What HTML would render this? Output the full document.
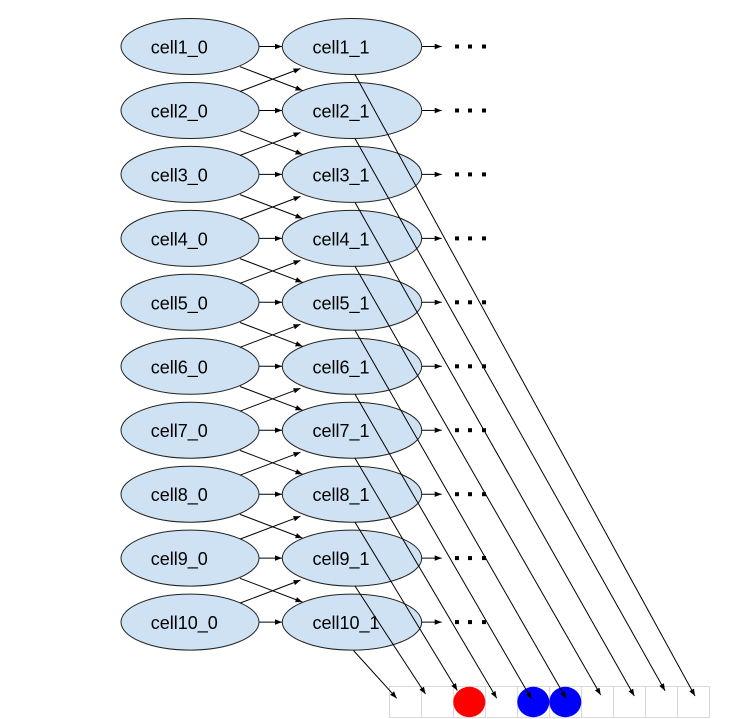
<!DOCTYPE html>
<html>
<head>
<meta charset="utf-8">
<style>
html,body{margin:0;padding:0;background:#fff;}
svg{display:block;}
text{font-family:"Liberation Sans",Arial,sans-serif;font-size:18px;fill:#000;}
</style>
</head>
<body>
<svg width="748" height="719" viewBox="0 0 748 719" xmlns="http://www.w3.org/2000/svg">
<defs>
<marker id="a" markerWidth="8" markerHeight="7" refX="7" refY="3" orient="auto" markerUnits="userSpaceOnUse">
<path d="M0,0.3 L7,3 L0,5.7 z" fill="#000"/>
</marker>
</defs>
<rect width="748" height="719" fill="#fff"/>

<!-- bottom cells -->
<g fill="#fff" stroke="#d9d9d9" stroke-width="1">
<rect x="389.5" y="686.5" width="32" height="31"/>
<rect x="421.5" y="686.5" width="32" height="31"/>
<rect x="453.5" y="686.5" width="32" height="31"/>
<rect x="485.5" y="686.5" width="32" height="31"/>
<rect x="517.5" y="686.5" width="32" height="31"/>
<rect x="549.5" y="686.5" width="32" height="31"/>
<rect x="581.5" y="686.5" width="32" height="31"/>
<rect x="613.5" y="686.5" width="32" height="31"/>
<rect x="645.5" y="686.5" width="32" height="31"/>
<rect x="677.5" y="686.5" width="32" height="31"/>
</g>
<ellipse cx="469.3" cy="702" rx="16" ry="15.2" fill="#ff0000"/>
<ellipse cx="533.3" cy="702" rx="16" ry="15.2" fill="#0000ff"/>
<ellipse cx="565.3" cy="702" rx="16" ry="15.2" fill="#0000ff"/>

<!-- ellipses -->
<g fill="#cfe2f3" stroke="#222" stroke-width="1">
<ellipse cx="190" cy="46.5" rx="69" ry="28"/>
<ellipse cx="190" cy="110.5" rx="69" ry="28"/>
<ellipse cx="190" cy="174.4" rx="69" ry="28"/>
<ellipse cx="190" cy="238.4" rx="69" ry="28"/>
<ellipse cx="190" cy="302.3" rx="69" ry="28"/>
<ellipse cx="190" cy="366.3" rx="69" ry="28"/>
<ellipse cx="190" cy="430.2" rx="69" ry="28"/>
<ellipse cx="190" cy="494.2" rx="69" ry="28"/>
<ellipse cx="190" cy="558.1" rx="69" ry="28"/>
<ellipse cx="190" cy="622.1" rx="69" ry="28"/>
<ellipse cx="352" cy="46.5" rx="69.7" ry="28"/>
<ellipse cx="352" cy="110.5" rx="69.7" ry="28"/>
<ellipse cx="352" cy="174.4" rx="69.7" ry="28"/>
<ellipse cx="352" cy="238.4" rx="69.7" ry="28"/>
<ellipse cx="352" cy="302.3" rx="69.7" ry="28"/>
<ellipse cx="352" cy="366.3" rx="69.7" ry="28"/>
<ellipse cx="352" cy="430.2" rx="69.7" ry="28"/>
<ellipse cx="352" cy="494.2" rx="69.7" ry="28"/>
<ellipse cx="352" cy="558.1" rx="69.7" ry="28"/>
<ellipse cx="352" cy="622.1" rx="69.7" ry="28"/>
</g>

<!-- labels -->
<text x="150.7" y="53.5">cell1_0</text>
<text x="150.7" y="117.5">cell2_0</text>
<text x="150.7" y="181.4">cell3_0</text>
<text x="150.7" y="245.4">cell4_0</text>
<text x="150.7" y="309.3">cell5_0</text>
<text x="150.7" y="373.3">cell6_0</text>
<text x="150.7" y="437.2">cell7_0</text>
<text x="150.7" y="501.2">cell8_0</text>
<text x="150.7" y="565.1">cell9_0</text>
<text x="150.7" y="629.1">cell10_0</text>
<text x="312.5" y="53.5">cell1_1</text>
<text x="312.5" y="117.5">cell2_1</text>
<text x="312.5" y="181.4">cell3_1</text>
<text x="312.5" y="245.4">cell4_1</text>
<text x="312.5" y="309.3">cell5_1</text>
<text x="312.5" y="373.3">cell6_1</text>
<text x="312.5" y="437.2">cell7_1</text>
<text x="312.5" y="501.2">cell8_1</text>
<text x="312.5" y="565.1">cell9_1</text>
<text x="312.5" y="629.1">cell10_1</text>

<!-- dots -->
<g fill="#000">
<rect x="455" y="44.5" width="4" height="4"/><rect x="468" y="44.5" width="4" height="4"/><rect x="482" y="44.5" width="4" height="4"/>
<rect x="455" y="108.5" width="4" height="4"/><rect x="468" y="108.5" width="4" height="4"/><rect x="482" y="108.5" width="4" height="4"/>
<rect x="455" y="172.4" width="4" height="4"/><rect x="468" y="172.4" width="4" height="4"/><rect x="482" y="172.4" width="4" height="4"/>
<rect x="455" y="236.4" width="4" height="4"/><rect x="468" y="236.4" width="4" height="4"/><rect x="482" y="236.4" width="4" height="4"/>
<rect x="455" y="300.3" width="4" height="4"/><rect x="468" y="300.3" width="4" height="4"/><rect x="482" y="300.3" width="4" height="4"/>
<rect x="455" y="364.3" width="4" height="4"/><rect x="468" y="364.3" width="4" height="4"/><rect x="482" y="364.3" width="4" height="4"/>
<rect x="455" y="428.2" width="4" height="4"/><rect x="468" y="428.2" width="4" height="4"/><rect x="482" y="428.2" width="4" height="4"/>
<rect x="455" y="492.2" width="4" height="4"/><rect x="468" y="492.2" width="4" height="4"/><rect x="482" y="492.2" width="4" height="4"/>
<rect x="455" y="556.1" width="4" height="4"/><rect x="468" y="556.1" width="4" height="4"/><rect x="482" y="556.1" width="4" height="4"/>
<rect x="455" y="620.1" width="4" height="4"/><rect x="468" y="620.1" width="4" height="4"/><rect x="482" y="620.1" width="4" height="4"/>
</g>

<g stroke="#000" stroke-width="1" fill="none" marker-end="url(#a)">
<!-- horizontal col0 -> col1 -->
<line x1="259.5" y1="46.5" x2="282" y2="46.5"/>
<line x1="259.5" y1="110.5" x2="282" y2="110.5"/>
<line x1="259.5" y1="174.4" x2="282" y2="174.4"/>
<line x1="259.5" y1="238.4" x2="282" y2="238.4"/>
<line x1="259.5" y1="302.3" x2="282" y2="302.3"/>
<line x1="259.5" y1="366.3" x2="282" y2="366.3"/>
<line x1="259.5" y1="430.2" x2="282" y2="430.2"/>
<line x1="259.5" y1="494.2" x2="282" y2="494.2"/>
<line x1="259.5" y1="558.1" x2="282" y2="558.1"/>
<line x1="259.5" y1="622.1" x2="282" y2="622.1"/>
<!-- horizontal col1 -> dots -->
<line x1="421.7" y1="46.5" x2="441.7" y2="46.5"/>
<line x1="421.7" y1="110.5" x2="441.7" y2="110.5"/>
<line x1="421.7" y1="174.4" x2="441.7" y2="174.4"/>
<line x1="421.7" y1="238.4" x2="441.7" y2="238.4"/>
<line x1="421.7" y1="302.3" x2="441.7" y2="302.3"/>
<line x1="421.7" y1="366.3" x2="441.7" y2="366.3"/>
<line x1="421.7" y1="430.2" x2="441.7" y2="430.2"/>
<line x1="421.7" y1="494.2" x2="441.7" y2="494.2"/>
<line x1="421.7" y1="558.1" x2="441.7" y2="558.1"/>
<line x1="421.7" y1="622.1" x2="441.7" y2="622.1"/>
<!-- cross arrows -->
<line x1="240" y1="66.7" x2="302.5" y2="90.5"/><line x1="240" y1="91.5" x2="300.5" y2="68.5"/>
<line x1="240" y1="130.7" x2="302.5" y2="154.4"/><line x1="240" y1="155.4" x2="300.5" y2="132.5"/>
<line x1="240" y1="194.6" x2="302.5" y2="218.4"/><line x1="240" y1="219.4" x2="300.5" y2="196.4"/>
<line x1="240" y1="258.6" x2="302.5" y2="282.3"/><line x1="240" y1="283.3" x2="300.5" y2="260.4"/>
<line x1="240" y1="322.5" x2="302.5" y2="346.3"/><line x1="240" y1="347.3" x2="300.5" y2="324.3"/>
<line x1="240" y1="386.5" x2="302.5" y2="410.2"/><line x1="240" y1="411.2" x2="300.5" y2="388.3"/>
<line x1="240" y1="450.4" x2="302.5" y2="474.2"/><line x1="240" y1="475.2" x2="300.5" y2="452.2"/>
<line x1="240" y1="514.4" x2="302.5" y2="538.1"/><line x1="240" y1="539.1" x2="300.5" y2="516.2"/>
<line x1="240" y1="578.3" x2="302.5" y2="602.1"/><line x1="240" y1="603.1" x2="300.5" y2="580.1"/>
<!-- long diagonals -->
<line x1="355" y1="74.5" x2="695" y2="696"/>
<line x1="355" y1="138.5" x2="665" y2="690.7"/>
<line x1="355" y1="202.4" x2="634.3" y2="696"/>
<line x1="355" y1="266.4" x2="600.7" y2="695"/>
<line x1="355" y1="330.3" x2="566" y2="698.3"/>
<line x1="355" y1="394.3" x2="531.5" y2="699"/>
<line x1="355" y1="458.2" x2="496.7" y2="698.3"/>
<line x1="355" y1="522.2" x2="457.3" y2="690.5"/>
<line x1="355" y1="586.1" x2="425.5" y2="694"/>
<line x1="353.5" y1="650.5" x2="396.7" y2="698.3"/>
</g>
</svg>
</body>
</html>
